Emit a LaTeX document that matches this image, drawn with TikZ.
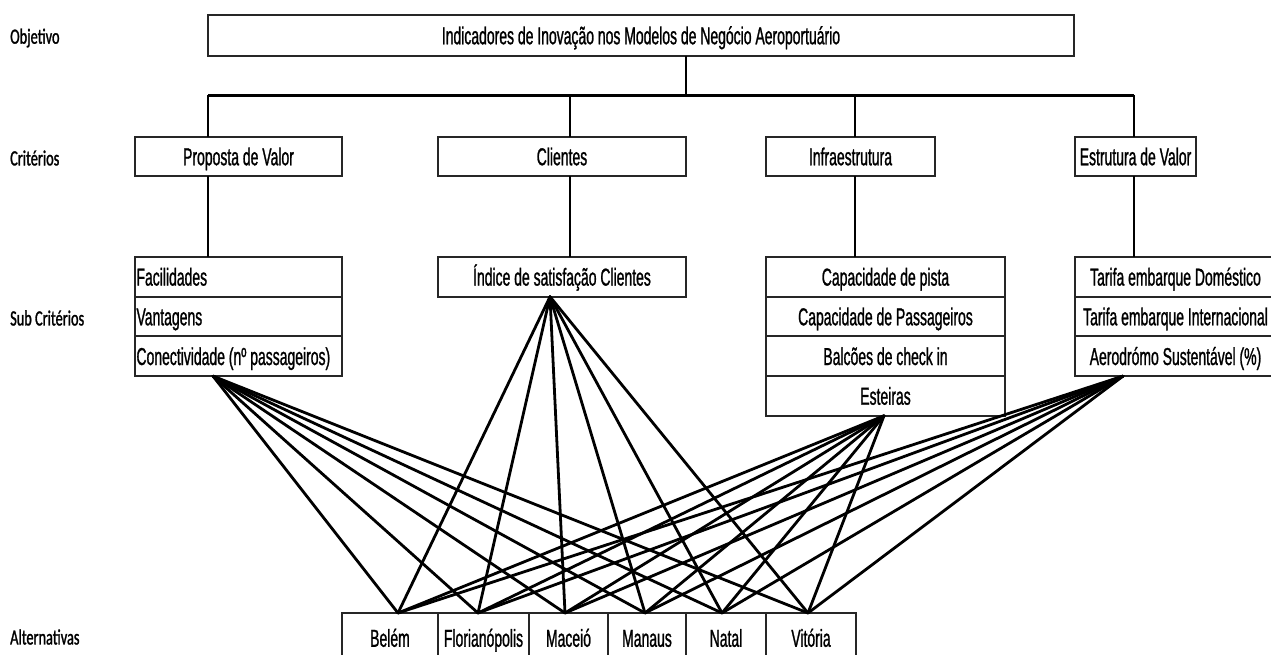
\documentclass[tikz,border=0pt]{standalone}
\usepackage{fontspec}
\setmainfont{Liberation Sans}[FakeStretch=0.57, FakeBold=1]
\newfontfamily\rotulo{Carlito}[FakeStretch=0.66, FakeBold=1.3]

\tikzset{
  caixa/.style={draw=black!85, line width=2pt, rectangle, inner sep=0pt, outer sep=0pt,
    text height=17.5pt, text depth=0pt, font=\fontsize{24.5}{28}\selectfont},
  nivel/.style={anchor=west, inner sep=0pt, font=\rotulo\fontsize{21.7}{26}\selectfont},
  liga/.style={line width=2.2pt},
  barra/.style={line width=3pt},
  leque/.style={line width=2.8pt, line cap=round},
}

\begin{document}
\begin{tikzpicture}[x=1pt, y=-1pt]
\useasboundingbox (0,0) rectangle (1271,654);

% rotulos dos niveis
\node[nivel] (lobj) at (10,38) {Objetivo};
\node[nivel] (lcrit) at (10,158) {Critérios};
\node[nivel] (lsub) at (10,318) {Sub Critérios};
\node[nivel] (lalt) at (10,637) {Alternativas};

% objetivo
\node[caixa, minimum width=866pt, minimum height=41pt] (obj) at (641,35.5) {Indicadores de Inovação nos Modelos de Negócio Aeroportuário};

% criterios
\foreach \n/\x/\w/\t in {pv/238.5/207/Proposta de Valor, cli/562/248/Clientes, inf/850.5/169/Infraestrutura, est/1135.5/121/Estrutura de Valor}
  \node[caixa, minimum width=\w pt, minimum height=39pt] (\n) at (\x,156.5) {\t};

% sub criterios
\foreach \i/\t in {0/Facilidades, 1/Vantagens, 2/Conectividade (nº passageiros)}
  \node[caixa, minimum width=207pt, minimum height=39.7pt, text width=204pt, align=flush left] (pv\i) at (238.5,{276.85+39.7*\i}) {\t};
\node[caixa, minimum width=248pt, minimum height=39.7pt] (cli0) at (562,276.85) {Índice de satisfação Clientes};
\foreach \i/\t in {0/Capacidade de pista, 1/Capacidade de Passageiros, 2/Balcões de check in, 3/Esteiras}
  \node[caixa, minimum width=239pt, minimum height=39.7pt] (inf\i) at (885.5,{276.85+39.7*\i}) {\t};
\foreach \i/\t in {0/Tarifa embarque Doméstico, 1/Tarifa embarque Internacional, 2/Aerodrómo Sustentável (\%)}
  \node[caixa, minimum width=201pt, minimum height=39.7pt] (est\i) at (1175.5,{276.85+39.7*\i}) {\t};

% alternativas
\foreach \n/\x/\w/\t in {bel/390/96/Belém, flo/483.5/91/Florianópolis, mac/568.5/79/Maceió, man/647/78/Manaus, nat/726/80/Natal, vit/811/90/Vitória}
  \node[caixa, minimum width=\w pt, minimum height=50pt] (\n) at (\x,638) {\t};

% arvore superior
\coordinate (bt) at (686,95);
\coordinate (b1) at (208,95);
\coordinate (b2) at (570,95);
\coordinate (b3) at (855,95);
\coordinate (b4) at (1134,95);
\draw[barra] (b1) -- (b4);
\draw[liga] (obj.south -| bt) -- (bt);
\foreach \b/\n in {b1/pv, b2/cli, b3/inf, b4/est} {
  \draw[liga] (\b) -- (\n.north -| \b);
  \draw[liga] (\n.south -| \b) -- (\n0.north -| \b);
}

% leques ate as alternativas
\coordinate (fpv) at ([xshift=-25.5pt]pv2.south);
\coordinate (fcl) at ([xshift=-12pt]cli0.south);
\coordinate (fin) at ([xshift=-1.5pt]inf3.south);
\coordinate (fes) at ([xshift=-52.5pt]est2.south);
\foreach \a/\s in {bel/8, flo/-5.5, mac/-3.5, man/-2, nat/-4, vit/-3} {
  \coordinate (\a-t) at ([xshift=\s pt]\a.north);
  \foreach \f in {fpv, fcl, fin, fes}
    \draw[leque] (\f) -- (\a-t);
}
\end{tikzpicture}
\end{document}
